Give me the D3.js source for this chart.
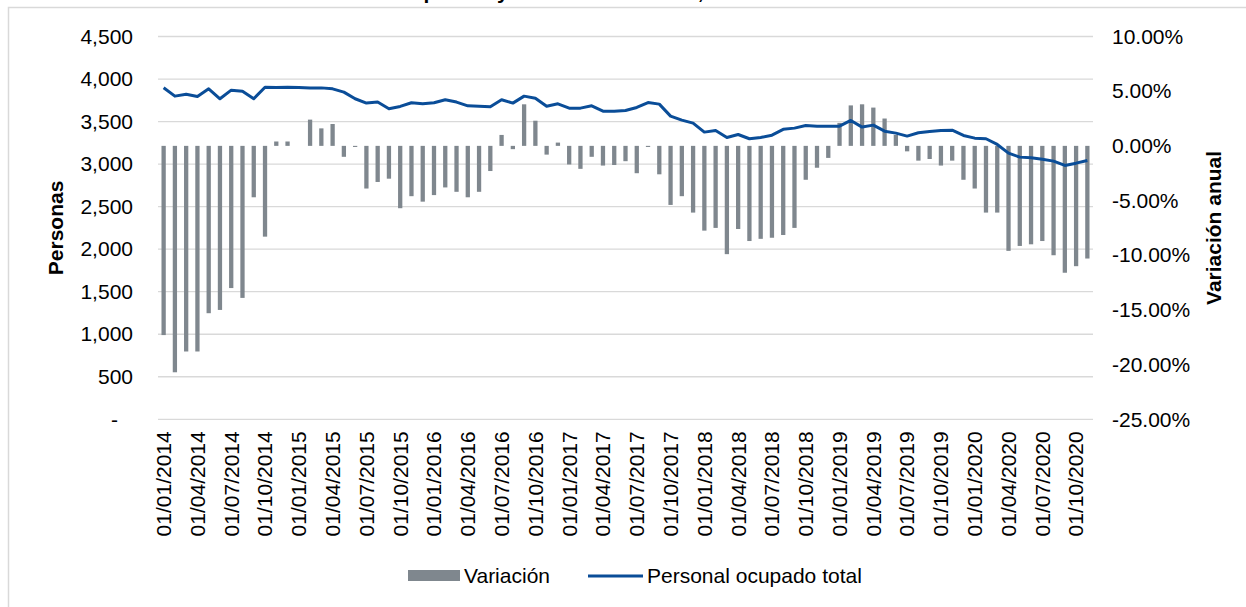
<!DOCTYPE html>
<html>
<head>
<meta charset="utf-8">
<script src="https://cdn.jsdelivr.net/npm/d3@7"></script>
<style>
  body { margin: 0; background: #fff; }
  svg { display: block; font-family: 'Liberation Sans', Arial, sans-serif; }
</style>
</head>
<body>
<div id="chart"></div>
<script>
// meses: ene 2014 - nov 2020
const months = d3.timeMonth.range(new Date(2014, 0, 1), new Date(2020, 11, 1))

// variación anual (%)
const variacion = [
  -17.3, -20.7, -18.8, -18.8, -15.3, -15.0, -13.0, -13.9, -4.7, -8.3, 0.4, 0.4,
  0.0, 2.4, 1.6, 2.0, -1.0, -0.1, -3.9, -3.3, -3.0, -5.7, -4.6, -5.1,
  -4.5, -3.8, -4.2, -4.7, -4.2, -2.3, 1.0, -0.3, 3.8, 2.3, -0.8, 0.3,
  -1.7, -2.1, -1.0, -1.8, -1.75, -1.4, -2.5, -0.1, -2.6, -5.4, -4.6, -6.1,
  -7.75, -7.5, -9.9, -7.6, -8.7, -8.5, -8.4, -8.15, -7.5, -3.1, -2.0, -1.1,
  2.1, 3.7, 3.8, 3.5, 2.5, 1.0, -0.5, -1.35, -1.2, -1.8, -1.35, -3.1,
  -3.9, -6.1, -6.1, -9.6, -9.15, -9.0, -8.7, -10.0, -11.6, -11.0, -10.3
]

// personal ocupado total (personas)
const personal = [
  3897, 3799, 3822, 3795, 3885, 3768, 3869, 3857, 3768, 3904, 3900, 3904,
  3900, 3896, 3896, 3885, 3846, 3768, 3717, 3729, 3650, 3678, 3721, 3709,
  3721, 3756, 3729, 3685, 3681, 3674, 3756, 3717, 3799, 3775, 3681, 3709,
  3658, 3658, 3685, 3622, 3622, 3630, 3666, 3724, 3705, 3564, 3517, 3482,
  3376, 3395, 3313, 3348, 3298, 3313, 3340, 3409, 3423, 3454, 3446, 3446,
  3446, 3513, 3435, 3458, 3387, 3364, 3329, 3368, 3384, 3395, 3399, 3337,
  3305, 3298, 3231, 3129, 3082, 3075, 3058, 3035, 2984, 3011, 3043
]

const leftTicks = [0, 500, 1000, 1500, 2000, 2500, 3000, 3500, 4000, 4500]
const rightTicks = [-25, -20, -15, -10, -5, 0, 5, 10]

const width = 1246
const height = 607
const plot = { left: 158, right: 1093, top: 36.5, bottom: 419.3 }
const barColor = '#7f878e'
const lineColor = '#0a4d98'
const gridColor = '#d9d9d9'
const fontSize = 21

const svg = d3.select('#chart').append('svg')
  .attr('width', width)
  .attr('height', height)

// marco
svg.append('rect')
  .attr('x', 8.5).attr('y', 7.5)
  .attr('width', 1400).attr('height', 800)
  .attr('fill', 'none')
  .attr('stroke', gridColor)
  .attr('stroke-width', 1.5)

// título (recortado en el original)
svg.append('text')
  .attr('x', 560).attr('y', -1.5)
  .attr('text-anchor', 'middle')
  .style('font-size', fontSize + 'px')
  .style('font-weight', 'bold')
  .text('Personal empleado y su variación anual, 2014 - 2020')

const x = d3.scaleBand()
  .domain(months)
  .range([plot.left, plot.right])
  .paddingInner(0.62)
  .paddingOuter(0.31)

const yLeft = d3.scaleLinear()
  .domain([0, 4500])
  .range([plot.bottom, plot.top])

const yRight = d3.scaleLinear()
  .domain([-25, 10])
  .range([plot.bottom, plot.top])

// cuadrícula
svg.append('g')
  .selectAll('line')
  .data(leftTicks)
  .join('line')
  .attr('x1', plot.left).attr('x2', plot.right)
  .attr('y1', d => yLeft(d)).attr('y2', d => yLeft(d))
  .attr('stroke', gridColor)
  .attr('stroke-width', 1.3)

// eje izquierdo
const axL = svg.append('g')
  .attr('transform', `translate(${plot.left - 25},0)`)
  .call(d3.axisLeft(yLeft).tickValues(leftTicks).tickSize(0).tickPadding(0)
    .tickFormat(d => d === 0 ? '-' : d3.format(',')(d)))
axL.select('.domain').remove()
axL.selectAll('text')
  .attr('x', d => d === 0 ? -15 : 0)
  .style('font-size', fontSize + 'px')
  .style('font-family', 'Liberation Sans, Arial, sans-serif')
  .attr('fill', '#000')

// eje derecho
const axR = svg.append('g')
  .attr('transform', `translate(${plot.right + 19},0)`)
  .call(d3.axisRight(yRight).tickValues(rightTicks).tickSize(0).tickPadding(0)
    .tickFormat(d => d.toFixed(2) + '%'))
axR.select('.domain').remove()
axR.selectAll('text')
  .style('font-size', fontSize + 'px')
  .style('font-family', 'Liberation Sans, Arial, sans-serif')
  .attr('fill', '#000')

// eje x
const axX = svg.append('g')
  .attr('transform', `translate(0,${plot.bottom})`)
  .call(d3.axisBottom(x)
    .tickValues(months.filter((d, i) => i % 3 === 0))
    .tickSize(0)
    .tickFormat(d3.timeFormat('%d/%m/%Y')))
axX.select('.domain').remove()
axX.selectAll('text')
  .attr('transform', 'rotate(-90)')
  .attr('x', -12)
  .attr('y', 0)
  .attr('dy', '0.35em')
  .attr('text-anchor', 'end')
  .style('font-size', fontSize + 'px')
  .style('font-family', 'Liberation Sans, Arial, sans-serif')
  .attr('fill', '#000')

// barras de variación
svg.append('g')
  .selectAll('rect')
  .data(variacion)
  .join('rect')
  .attr('x', (d, i) => x(months[i]))
  .attr('width', x.bandwidth())
  .attr('y', d => yRight(Math.max(0, d)))
  .attr('height', d => Math.abs(yRight(d) - yRight(0)))
  .attr('fill', barColor)

// línea de personal ocupado
const line = d3.line()
  .x((d, i) => x(months[i]) + x.bandwidth() / 2)
  .y(d => yLeft(d))

svg.append('path')
  .datum(personal)
  .attr('d', line)
  .attr('fill', 'none')
  .attr('stroke', lineColor)
  .attr('stroke-width', 3)
  .attr('stroke-linejoin', 'round')

// títulos de ejes
svg.append('text')
  .attr('transform', `translate(63,${(plot.top + plot.bottom) / 2}) rotate(-90)`)
  .attr('text-anchor', 'middle')
  .style('font-size', fontSize + 'px')
  .style('font-weight', 'bold')
  .text('Personas')

svg.append('text')
  .attr('transform', `translate(1221,${(plot.top + plot.bottom) / 2}) rotate(-90)`)
  .attr('text-anchor', 'middle')
  .style('font-size', fontSize + 'px')
  .style('font-weight', 'bold')
  .text('Variación anual')

// leyenda
const legend = svg.append('g')
legend.append('rect')
  .attr('x', 408).attr('y', 570)
  .attr('width', 52).attr('height', 11)
  .attr('fill', barColor)
legend.append('text')
  .attr('x', 464).attr('y', 576).attr('dy', '0.35em')
  .style('font-size', fontSize + 'px')
  .text('Variación')
legend.append('line')
  .attr('x1', 588).attr('x2', 643)
  .attr('y1', 576).attr('y2', 576)
  .attr('stroke', lineColor)
  .attr('stroke-width', 3)
legend.append('text')
  .attr('x', 647).attr('y', 576).attr('dy', '0.35em')
  .style('font-size', fontSize + 'px')
  .text('Personal ocupado total')
</script>
</body>
</html>
